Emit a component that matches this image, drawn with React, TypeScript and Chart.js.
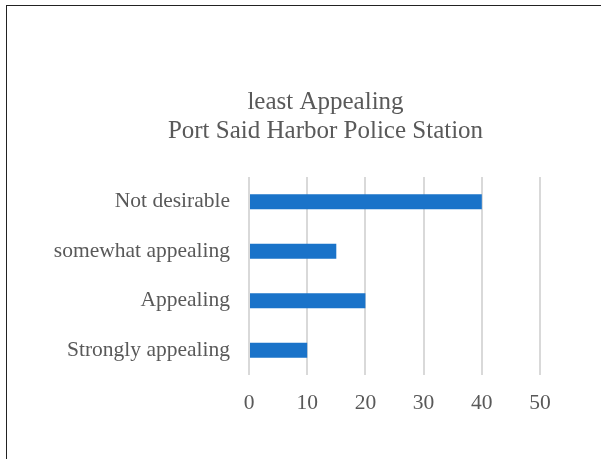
import React, { useEffect, useRef } from "react";
import { Chart, registerables } from "chart.js";

Chart.register(...registerables);

const categories = ["Not desirable", "somewhat appealing", "Appealing", "Strongly appealing"];
const values = [40, 15, 20, 10];
const titleLines = ["least Appealing", "Port Said Harbor Police Station"];

const FONT = "'Liberation Serif', 'Times New Roman', serif";
const TEXT = "#595959";

const titlePlugin = {
  id: "centeredTitle",
  afterDraw(chart: any) {
    const ctx = chart.ctx;
    ctx.save();
    ctx.font = `25px ${FONT}`;
    ctx.fillStyle = TEXT;
    ctx.textAlign = "center";
    ctx.textBaseline = "middle";
    titleLines.forEach((line, i) => {
      ctx.fillText(line, 325.5, 102 + i * 29);
    });
    ctx.restore();
  },
};

export default function App() {
  const ref = useRef<HTMLCanvasElement | null>(null);
  useEffect(() => {
    if (!ref.current) return;
    const chart = new Chart(ref.current, {
      type: "bar",
      data: {
        labels: categories,
        datasets: [
          {
            data: values,
            backgroundColor: "#1a73c9",
            borderWidth: 0,
            barPercentage: 0.6,
            categoryPercentage: 0.5,
          },
        ],
      },
      plugins: [titlePlugin],
      options: {
        indexAxis: "y",
        animation: false,
        responsive: false,
        maintainAspectRatio: false,
        layout: { padding: { left: 0, right: 61, top: 177, bottom: 0 } },
        plugins: {
          legend: { display: false },
          tooltip: { enabled: false },
          title: { display: false },
        },
        scales: {
          x: {
            min: 0,
            max: 50,
            ticks: {
              stepSize: 10,
              color: TEXT,
              padding: 15,
              font: { family: FONT, size: 21.5 },
            },
            grid: { color: "#d9d9d9", lineWidth: 2, drawTicks: false },
            border: { display: false },
            afterFit: (s: any) => {
              s.height = 459 - 375;
            },
          },
          y: {
            ticks: {
              color: TEXT,
              padding: 19,
              font: { family: FONT, size: 21.5 },
            },
            grid: { display: false, drawTicks: false },
            border: { display: false },
            afterFit: (s: any) => {
              s.width = 249;
            },
          },
        },
      },
    });
    return () => chart.destroy();
  }, []);
  return (
    <div>
      <canvas
        ref={ref}
        width={601}
        height={459}
        style={{ position: "absolute", left: 0, top: 0, width: 601, height: 459 }}
      />
      <div
        style={{
          position: "absolute",
          left: 6,
          top: 5,
          width: 601 - 6,
          height: 459 - 5,
          borderLeft: "1px solid #222",
          borderTop: "1px solid #222",
          boxSizing: "border-box",
          pointerEvents: "none",
        }}
      />
    </div>
  );
}
